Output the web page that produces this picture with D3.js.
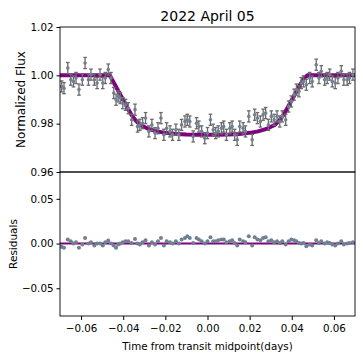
<!DOCTYPE html>
<html><head><meta charset="utf-8">
<script src="https://cdn.jsdelivr.net/npm/d3@7"></script>
<style>body{margin:0;background:#fff}svg{display:block}text{font-family:"DejaVu Sans",sans-serif}</style>
</head><body><svg id="c" width="363" height="363"></svg>
<script>
const title = "2022 April 05";
const times = [-0.0692,-0.0681,-0.0663,-0.0649,-0.0636,-0.0624,-0.0610,-0.0594,-0.0581,-0.0565,-0.0553,-0.0537,-0.0524,-0.0510,-0.0497,-0.0485,-0.0471,-0.0458,-0.0445,-0.0434,-0.0424,-0.0414,-0.0402,-0.0389,-0.0376,-0.0360,-0.0344,-0.0332,-0.0321,-0.0308,-0.0294,-0.0278,-0.0264,-0.0249,-0.0235,-0.0221,-0.0207,-0.0194,-0.0178,-0.0166,-0.0150,-0.0136,-0.0123,-0.0107,-0.0096,-0.0084,-0.0068,-0.0052,-0.0041,-0.0028,-0.0013,0.0000,0.0014,0.0027,0.0039,0.0051,0.0066,0.0077,0.0090,0.0106,0.0117,0.0129,0.0141,0.0153,0.0169,0.0180,0.0196,0.0212,0.0224,0.0237,0.0251,0.0264,0.0276,0.0289,0.0303,0.0316,0.0330,0.0343,0.0355,0.0371,0.0385,0.0398,0.0411,0.0422,0.0434,0.0445,0.0456,0.0469,0.0485,0.0497,0.0516,0.0529,0.0540,0.0556,0.0568,0.0580,0.0592,0.0606,0.0619,0.0635,0.0647,0.0663,0.0674,0.0690];
const flux = [0.9954,0.9947,1.0030,0.9982,0.9975,0.9989,0.9941,0.9982,1.0051,0.9982,1.0003,0.9982,0.9968,1.0003,0.9968,0.9989,1.0024,0.9989,0.9927,0.9899,0.9913,0.9906,0.9885,0.9878,0.9864,0.9816,0.9858,0.9788,0.9795,0.9802,0.9823,0.9768,0.9795,0.9761,0.9781,0.9823,0.9754,0.9781,0.9768,0.9754,0.9775,0.9754,0.9795,0.9809,0.9816,0.9809,0.9747,0.9802,0.9788,0.9768,0.9740,0.9761,0.9816,0.9775,0.9761,0.9768,0.9781,0.9788,0.9754,0.9781,0.9788,0.9754,0.9733,0.9788,0.9781,0.9768,0.9830,0.9733,0.9837,0.9823,0.9809,0.9837,0.9844,0.9795,0.9830,0.9816,0.9830,0.9809,0.9830,0.9816,0.9871,0.9892,0.9920,0.9941,0.9934,0.9968,0.9975,0.9961,0.9989,0.9975,1.0044,0.9989,1.0017,0.9982,0.9989,1.0003,0.9975,0.9968,0.9989,1.0017,0.9982,0.9982,0.9989,1.0003];
const fluxErr = 0.0023;
const residuals = [-0.0037,-0.0048,0.0044,0.0026,0,0.0015,-0.0048,-0.0011,0.0063,0,0.0015,-0.0022,0,0,-0.0022,0.0015,0.0033,0,-0.0022,-0.0048,-0.0011,0,0.0015,0.0026,0.0026,0.0007,0.0052,0,-0.0011,0.0015,0.0037,-0.0022,0.0015,-0.0011,0.0026,0.0063,-0.0022,0.0026,0.0015,0,0.0026,0,0.0044,0.0063,0.0081,0.0063,0.0007,0.0063,0.0044,0.0026,0,0.0026,0.0070,0.0026,0.0026,0.0037,0.0044,0.0044,0.0015,0.0026,0.0037,0.0007,-0.0022,0.0044,0.0026,0.0015,0.0081,-0.0022,0.0070,0.0044,0.0037,0.0063,0.0070,0.0026,0.0037,0.0015,0.0026,0.0007,0.0026,-0.0011,0.0026,0.0044,0.0037,0.0026,0.0007,0,0.0007,-0.0030,-0.0011,-0.0022,0.0037,0.0007,0.0026,0,0.0015,0.0007,-0.0011,-0.0022,0,0.0026,-0.0011,0,0.0007,0.0015];
const modelT = [-0.07,-0.0464,-0.044,-0.042,-0.040,-0.038,-0.036,-0.034,-0.032,-0.028,-0.024,-0.020,-0.015,-0.010,-0.005,0,0.005,0.010,0.015,0.020,0.024,0.028,0.032,0.034,0.036,0.038,0.040,0.042,0.044,0.046,0.0475,0.07];
const modelF = [1.0,1.0,0.9962,0.9930,0.9898,0.9866,0.9835,0.9812,0.9795,0.9778,0.9768,0.9762,0.9757,0.9755,0.9754,0.9754,0.9754,0.9755,0.9757,0.9762,0.9768,0.9778,0.9795,0.9812,0.9835,0.9866,0.9898,0.9930,0.9962,0.9990,1.0,1.0];
const xTicks = [-0.06,-0.04,-0.02,0.00,0.02,0.04,0.06];
const fluxTicks = [0.96,0.98,1.00,1.02];
const residTicks = [-0.05,0.00,0.05];

const svg = d3.select("#c");
const L = 60, R = 355, T1 = 27, B1 = 172, B2 = 316;
const TF = 10.3;
const x = d3.scaleLinear().domain([-0.07,0.07]).range([L,R]);
const y1 = d3.scaleLinear().domain([0.96,1.02]).range([B1,T1]);
const y2 = d3.scaleLinear().domain([-0.081,0.080]).range([B2,B1]);
const fmt = d3.format(".2f");
const minus = v => fmt(v).replace("-", "\u2212");
const style = a=>{a.select(".domain").remove(); a.selectAll("text").attr("font-size",TF).attr("fill","#000"); a.selectAll("line").attr("stroke","#000");};

const g1 = svg.append("g");
g1.append("clipPath").attr("id","cp1").append("rect").attr("x",L).attr("y",T1).attr("width",R-L).attr("height",B1-T1);
const p1 = g1.append("g").attr("clip-path","url(#cp1)");
const data = times.map((t,i)=>({t, f:flux[i], r:residuals[i]}));
p1.append("path").datum(modelT.map((t,i)=>[t,modelF[i]]))
  .attr("d", d3.line().x(d=>x(d[0])).y(d=>y1(d[1])))
  .attr("fill","none").attr("stroke","#800080").attr("stroke-width",4);
const eb = p1.append("g").attr("stroke","#6a6a6a").attr("stroke-width",1.3);
data.forEach(d=>{
  const xx = x(d.t), a = y1(d.f+fluxErr), b = y1(d.f-fluxErr);
  eb.append("line").attr("x1",xx).attr("x2",xx).attr("y1",a).attr("y2",b);
  eb.append("line").attr("x1",xx-1.8).attr("x2",xx+1.8).attr("y1",a).attr("y2",a);
  eb.append("line").attr("x1",xx-1.8).attr("x2",xx+1.8).attr("y1",b).attr("y2",b);
});
p1.selectAll("circle").data(data).join("circle")
  .attr("cx",d=>x(d.t)).attr("cy",d=>y1(d.f)).attr("r",1.8).attr("fill","#708090");

g1.append("g").attr("transform",`translate(${L},0)`)
  .call(d3.axisLeft(y1).tickValues(fluxTicks).tickFormat(fmt).tickSize(3.5).tickPadding(3)).call(style);
g1.append("rect").attr("x",L).attr("y",T1).attr("width",R-L).attr("height",B1-T1).attr("fill","none").attr("stroke","#000").attr("stroke-width",0.9);

const g2 = svg.append("g");
g2.append("clipPath").attr("id","cp2").append("rect").attr("x",L).attr("y",B1).attr("width",R-L).attr("height",B2-B1);
const p2 = g2.append("g").attr("clip-path","url(#cp2)");
p2.append("line").attr("x1",x(-0.07)).attr("x2",x(0.07)).attr("y1",y2(0)).attr("y2",y2(0))
  .attr("stroke","#800080").attr("stroke-width",2);
p2.selectAll("circle").data(data).join("circle")
  .attr("cx",d=>x(d.t)).attr("cy",d=>y2(d.r)).attr("r",2).attr("fill","#708090");
g2.append("g").attr("transform",`translate(${L},0)`)
  .call(d3.axisLeft(y2).tickValues(residTicks).tickFormat(minus).tickSize(3.5).tickPadding(3)).call(style);
g2.append("g").attr("transform",`translate(0,${B2})`)
  .call(d3.axisBottom(x).tickValues(xTicks).tickFormat(minus).tickSize(4).tickPadding(5)).call(style);
g2.append("rect").attr("x",L).attr("y",B1).attr("width",R-L).attr("height",B2-B1).attr("fill","none").attr("stroke","#000").attr("stroke-width",0.9);

svg.append("text").attr("x",(L+R)/2).attr("y",20.5).attr("text-anchor","middle").attr("font-size",14).text(title);
svg.append("text").attr("transform",`translate(25,${(T1+B1)/2}) rotate(-90)`).attr("text-anchor","middle").attr("font-size",12).text("Normalized Flux");
svg.append("text").attr("transform",`translate(17,${(B1+B2)/2}) rotate(-90)`).attr("text-anchor","middle").attr("font-size",10.5).text("Residuals");
svg.append("text").attr("x",(L+R)/2).attr("y",350).attr("text-anchor","middle").attr("font-size",10.3).text("Time from transit midpoint(days)");
</script></body></html>
